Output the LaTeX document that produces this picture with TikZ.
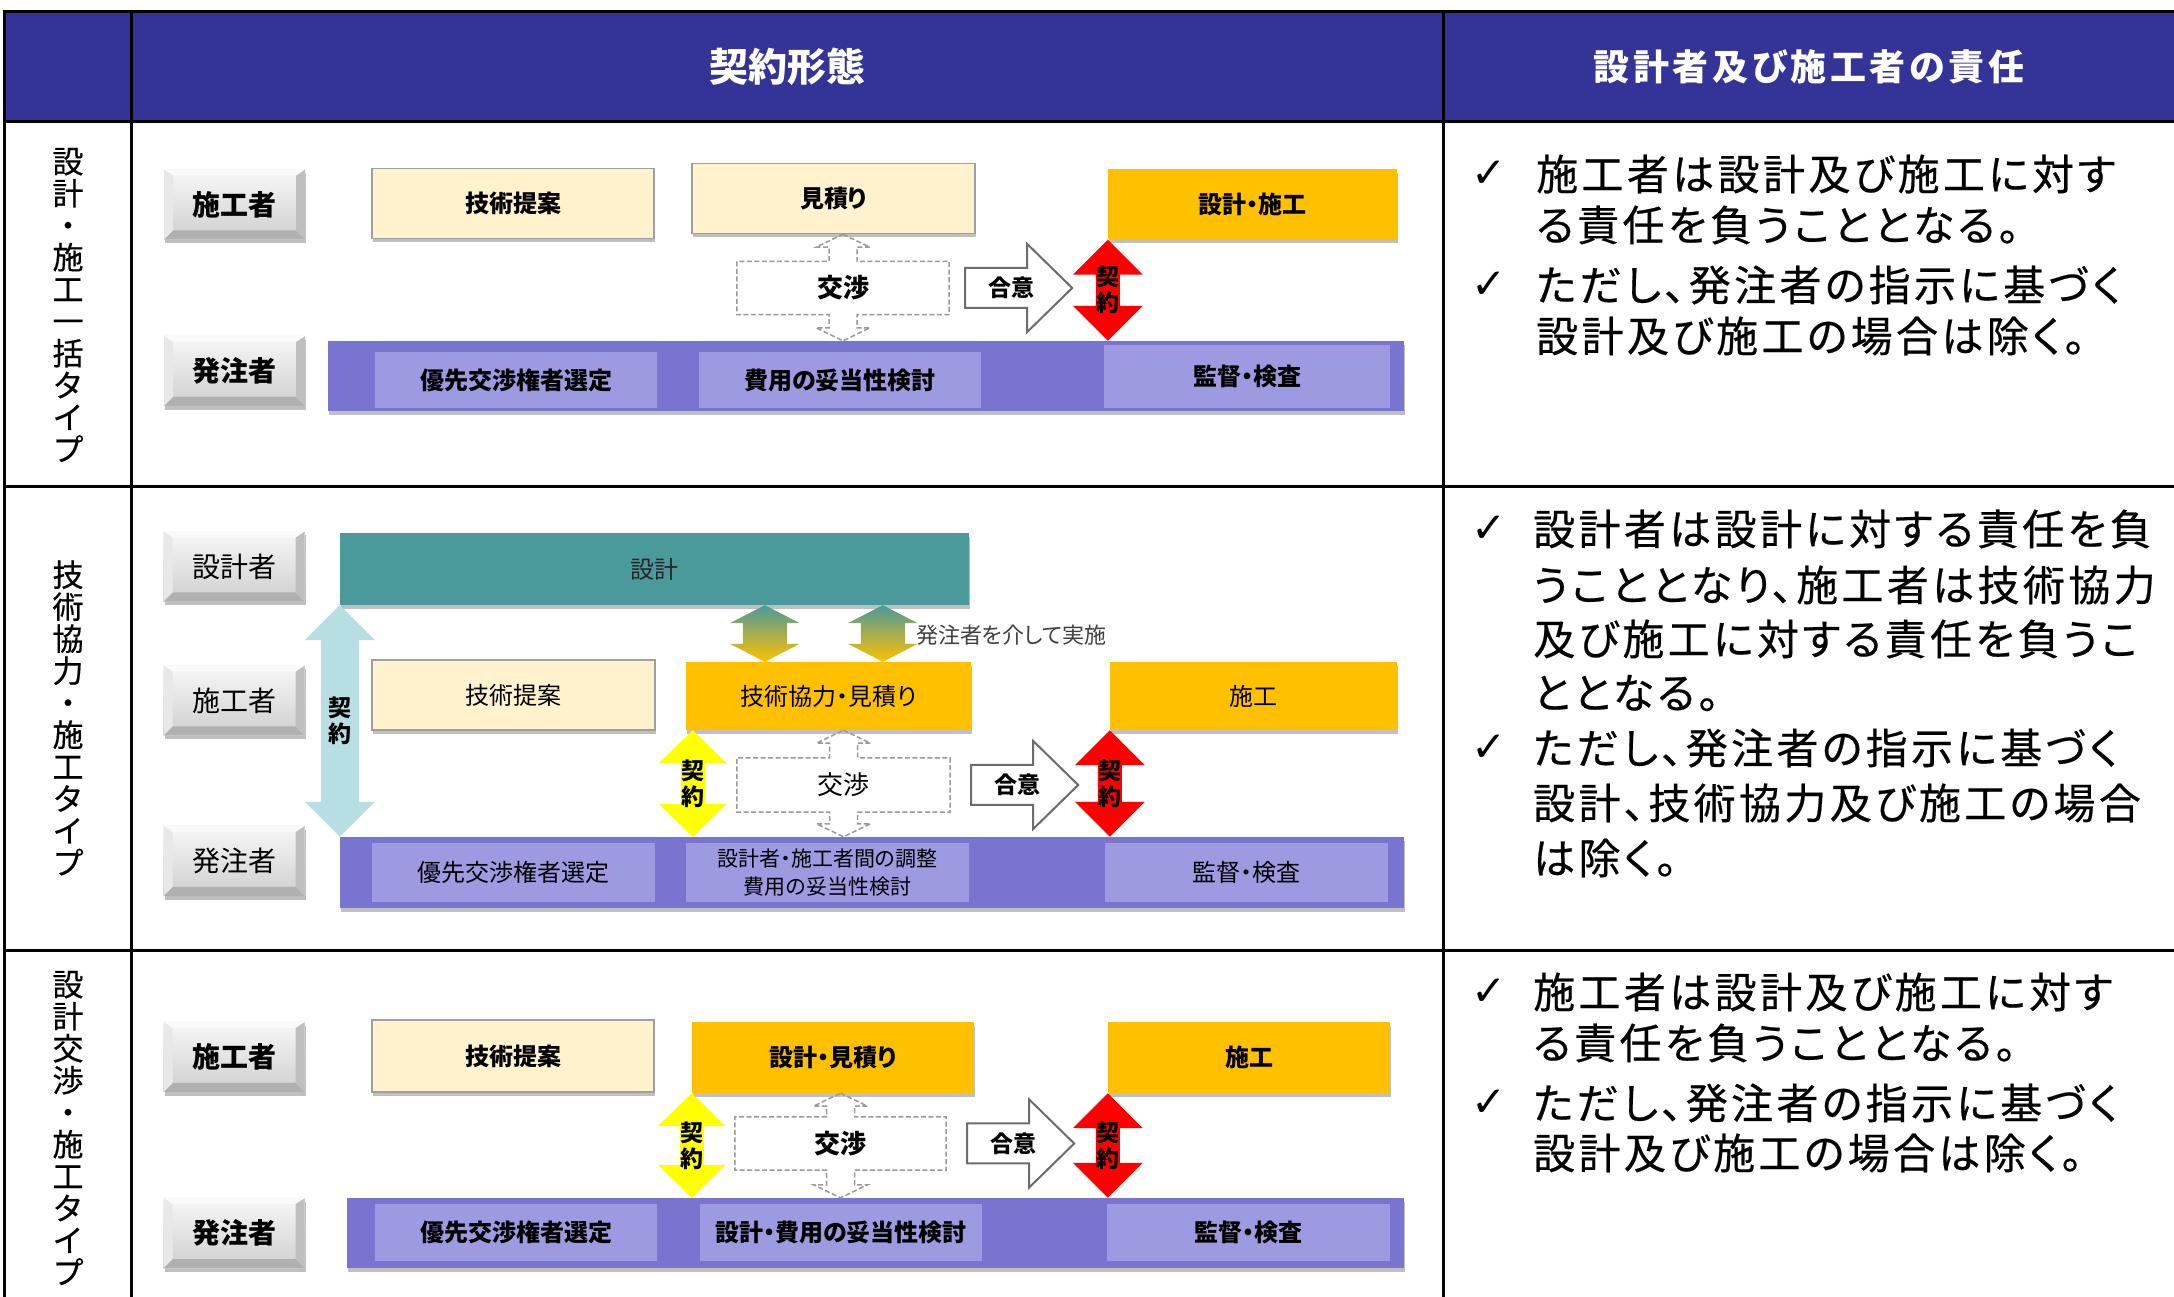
\documentclass[tikz,border=0pt]{standalone}
\usepackage{fontspec}
\setmainfont{Noto Sans CJK JP}
\newfontfamily\jpp[RawFeature=+palt]{Noto Sans CJK JP}
\newfontfamily\jpw[RawFeature=+palt,LetterSpace=10]{Noto Sans CJK JP}
\newfontfamily\jpr[RawFeature=+palt,LetterSpace=8,FakeBold=0.5]{Noto Sans CJK JP}
\newfontfamily\jpv[FakeBold=0.5]{Noto Sans CJK JP}
\newfontfamily\checkfont{DejaVu Sans}
\usepackage{tikz}
\usetikzlibrary{calc}
\usetikzlibrary{shadows}
\newcommand{\fsz}[1]{\fontsize{#1}{#1}\selectfont}

\definecolor{hdrblue}{RGB}{52,52,152}
\definecolor{paleyel}{RGB}{255,242,204}
\definecolor{kiorange}{RGB}{255,192,0}
\definecolor{barblue}{RGB}{120,116,208}
\definecolor{barlite}{RGB}{157,154,226}
\definecolor{tealc}{RGB}{74,154,156}
\definecolor{arrred}{RGB}{255,0,0}
\definecolor{arryel}{RGB}{255,255,0}
\definecolor{arrlt}{RGB}{183,222,226}

% double block arrow, vertical: style, top, bottom, shaft, head, head length, label
\newcommand{\vboth}[7]{%
  \path[#1] let \p1=(#2), \p2=(#3) in
    (\x1,\y1) -- (\x1+#5,\y1-#6) -- (\x1+#4,\y1-#6) -- (\x1+#4,\y2+#6)
    -- (\x1+#5,\y2+#6) -- (\x1,\y2) -- (\x1-#5,\y2+#6) -- (\x1-#4,\y2+#6)
    -- (\x1-#4,\y1-#6) -- (\x1-#5,\y1-#6) -- cycle
    (\x1,{(\y1+\y2)/2}) node[arrowtext] {#7};}
% dashed box with the dashed double arrow through it
\newcommand{\negoarrow}[3]{%
  \draw[negoline] let \p1=(#1.north west), \p2=(#1.south east),
    \p3=(#1.center |- #2), \p4=(#1.center |- #3) in
    (\x3,\y3) -- (\x3+27,\y3-13) -- (\x3+14,\y3-13) -- (\x3+14,\y1) -- (\x2,\y1) -- (\x2,\y2)
    -- (\x3+14,\y2) -- (\x3+14,\y4+13) -- (\x3+27,\y4+13) -- (\x3,\y4) -- (\x3-27,\y4+13)
    -- (\x3-14,\y4+13) -- (\x3-14,\y2) -- (\x1,\y2) -- (\x1,\y1) -- (\x3-14,\y1)
    -- (\x3-14,\y3-13) -- (\x3-27,\y3-13) -- cycle;}
% right block arrow: tail, length, label
\newcommand{\goiarrow}[3]{%
  \draw[goiline] let \p1=(#1) in
    (\x1,\y1+20) -- (\x1+#2-45,\y1+20) -- (\x1+#2-45,\y1+44) -- (\x1+#2,\y1)
    -- (\x1+#2-45,\y1-44) -- (\x1+#2-45,\y1-20) -- (\x1,\y1-20) -- cycle
    (\x1+46,\y1) node[goitext] {#3};}

\tikzset{
  every node/.style={inner sep=0pt},
  tline/.style={line width=3},
  boxshadow/.style={drop shadow={shadow xshift=1pt,shadow yshift=-4pt,opacity=0.25,fill=black}},
  actor/.style={minimum width=141, minimum height=70, top color=gray!6, bottom color=gray!38,
    boxshadow, font=\jpp\bfseries\fsz{28},
    path picture={
      \path (path picture bounding box.south west) coordinate (pa)
            (path picture bounding box.north east) coordinate (pb);
      \fill[gray!62] (pa) -- ($(pa)+(9,9)$) -- ($(pa -| pb)+(-9,9)$) -- (pa -| pb) -- cycle;
      \fill[gray!50] (pa -| pb) -- ($(pa -| pb)+(-9,9)$) -- ($(pb)+(-9,-6)$) -- (pb) -- cycle;
      \fill[gray!4] (pb) -- ($(pb)+(-9,-6)$) -- ($(pa |- pb)+(9,-6)$) -- (pa |- pb) -- cycle;
      \fill[gray!18] (pa |- pb) -- ($(pa |- pb)+(9,-6)$) -- ($(pa)+(9,9)$) -- (pa) -- cycle;
    }},
  actorlight/.style={actor, font=\jpp\fsz{28}},
  propbox/.style={minimum width=282, minimum height=70, fill=paleyel, draw=gray!75,
    line width=1.5, boxshadow, font=\jpp\bfseries\fsz{24}},
  workbox/.style={minimum width=284, minimum height=70, fill=kiorange, boxshadow,
    font=\jpp\bfseries\fsz{24}},
  designbox/.style={minimum width=629, minimum height=72, fill=tealc, boxshadow,
    text=black!85, font=\jpp\fsz{24}},
  bar/.style={fill=barblue, boxshadow},
  barin/.style={fill=barlite, minimum width=282, minimum height=57, font=\jpp\bfseries\fsz{24}},
  nego/.style={minimum width=212, minimum height=53, font=\jpp\bfseries\fsz{26}},
  negoline/.style={draw=gray!80, line width=1.5, dash pattern=on 5pt off 2.5pt},
  goiline/.style={draw=gray!85!black, fill=white, line width=2},
  goitext/.style={font=\jpp\bfseries\fsz{23}},
  arrowtext/.style={align=center, font=\jpp\bfseries\fontsize{23}{26}\selectfont},
  redarrow/.style={fill=arrred},
  yelarrow/.style={fill=arryel},
  ltarrow/.style={fill=arrlt},
  gradarrow/.style={top color=tealc, bottom color=kiorange},
  hdrtext/.style={text=white, font=\jpp\bfseries\fsz{39}},
  hdrtextB/.style={text=white, font=\jpw\bfseries\fsz{36}},
  rowlabel/.style={align=center, font=\jpv\fontsize{31}{32}\selectfont},
  resptext/.style={anchor=west, font=\jpr\fsz{42}},
  checkmk/.style={font=\checkfont\fsz{42}},
  viatext/.style={anchor=west, text=black!75, font=\jpp\fsz{22}}
}

\begin{document}
\begin{tikzpicture}[x=1pt,y=1pt]
  \clip (0,0) rectangle (2174,1296);
  \fill[white] (0,0) rectangle (2174,1296);

  % table
  \fill[hdrblue] (4,1174) rectangle (2190,1284);
  \draw[tline] (4,-10) -- (4,1284) -- (2190,1284);
  \draw[tline] (131,-10) -- (131,1284);
  \draw[tline] (1443,-10) -- (1443,1284);
  \draw[tline] (4,1174) -- (2190,1174);
  \draw[tline] (4,809) -- (2190,809);
  \draw[tline] (4,345) -- (2190,345);
  \node[hdrtext] (hdrA) at (787,1229) {契約形態};
  \node[hdrtextB] (hdrB) at (1809,1229) {設計者及び施工者の責任};
  \node[rowlabel] (typeA) at (68,991) {設\\計\\・\\施\\工\\一\\括\\タ\\イ\\プ};
  \node[rowlabel] (typeB) at (68,578) {技\\術\\協\\力\\・\\施\\工\\タ\\イ\\プ};
  \node[rowlabel] (typeC) at (68,168) {設\\計\\交\\渉\\・\\施\\工\\タ\\イ\\プ};

  % design-build type
  \node[actor] (sekoA) at (234.5,1091.5) {施工者};
  \node[actor] (hacchuA) at (234.5,925) {発注者};
  \node[propbox] (teianA) at (513,1092.5) {技術提案};
  \node[propbox, minimum width=283] (mitsumoriA) at (833.5,1097.5) {見積り};
  \node[workbox, minimum width=289] (sekkeisekoA) at (1252.5,1091.5) {設計・施工};
  \node[bar, minimum width=1076, minimum height=70] (barA) at (866,920) {};
  \node[barin, minimum height=56] (yusenA) at (516,916) {優先交渉権者選定};
  \node[barin, minimum height=56] (datoA) at (840,916) {費用の妥当性検討};
  \node[barin, minimum width=286, minimum height=63] (kantokuA) at (1247,919.5) {監督・検査};
  \node[nego] (negoA) at (843,1008) {交渉};
  \negoarrow{negoA}{mitsumoriA.south}{barA.north}
  \goiarrow{[xshift=16pt]negoA.east}{107}{合意}
  \vboth{redarrow}{sekkeisekoA.south west}{sekkeisekoA.south west |- barA.north}{12}{35}{35}{契\\約}

  % technical cooperation type
  \node[actorlight] (sekkeishaB) at (234,729.5) {設計者};
  \node[actorlight] (sekoB) at (234,595.5) {施工者};
  \node[actorlight] (hacchuB) at (234,435) {発注者};
  \node[designbox] (sekkeiB) at (654.5,727) {設計};
  \node[propbox, font=\jpp\fsz{24}, minimum width=283] (teianB) at (513.5,601) {技術提案};
  \node[workbox, font=\jpp\fsz{24}, minimum width=285, minimum height=68] (kyoryokuB) at (828.5,600) {技術協力・見積り};
  \node[workbox, font=\jpp\fsz{24}, minimum width=287, minimum height=68] (sekoworkB) at (1253.5,600) {施工};
  \node[bar, minimum width=1064, minimum height=71] (barB) at (872,423.5) {};
  \node[barin, font=\jpp\fsz{24}, minimum width=283, minimum height=59] (yusenB) at (513.5,423.5) {優先交渉権者選定};
  \node[barin, align=center, font=\jpp\fontsize{21}{28}\selectfont, minimum width=283, minimum height=59] (choseiB) at (827.5,423.5) {設計者・施工者間の調整\\費用の妥当性検討};
  \node[barin, font=\jpp\fsz{24}, minimum width=283, minimum height=59] (kantokuB) at (1246.5,423.5) {監督・検査};
  \coordinate (viaL) at ([xshift=79pt]kyoryokuB.north west);
  \coordinate (viaR) at ([xshift=197pt]kyoryokuB.north west);
  \coordinate (keiB) at ([xshift=7pt]kyoryokuB.south west);
  \vboth{gradarrow}{viaL |- sekkeiB.south}{viaL}{22}{35}{18}{}
  \vboth{gradarrow}{viaR |- sekkeiB.south}{viaR}{22}{35}{18}{}
  \node[viatext] (viaB) at (916,661) {発注者を介して実施};
  \vboth{ltarrow}{sekkeiB.south west}{sekkeiB.south west |- barB.north}{19}{35}{35}{契\\約}
  \vboth{yelarrow}{keiB}{keiB |- barB.north}{12}{34}{33}{契\\約}
  \node[nego, font=\jpp\fsz{26}, minimum width=213, minimum height=54] (negoB) at (843.5,511) {交渉};
  \negoarrow{negoB}{kyoryokuB.south}{barB.north}
  \goiarrow{[xshift=21pt]negoB.east}{107}{合意}
  \vboth{redarrow}{sekoworkB.south west}{sekoworkB.south west |- barB.north}{12}{35}{35}{契\\約}

  % design negotiation type
  \node[actor] (sekoC) at (234,239) {施工者};
  \node[actor] (hacchuC) at (234,63) {発注者};
  \node[propbox, minimum height=72] (teianC) at (513,240) {技術提案};
  \node[workbox, minimum width=282, minimum height=71] (mitsumoriC) at (833,238.5) {設計・見積り};
  \node[workbox, minimum width=282, minimum height=71] (sekoworkC) at (1249,238.5) {施工};
  \node[bar, minimum width=1057, minimum height=70] (barC) at (875.5,63) {};
  \node[barin] (yusenC) at (516,63.5) {優先交渉権者選定};
  \node[barin] (datoC) at (841,63.5) {設計・費用の妥当性検討};
  \node[barin, minimum width=283] (kantokuC) at (1248.5,63.5) {監督・検査};
  \node[nego, minimum width=211] (negoC) at (840.5,152.5) {交渉};
  \negoarrow{negoC}{mitsumoriC.south}{barC.north}
  \goiarrow{[xshift=21pt]negoC.east}{107}{合意}
  \vboth{yelarrow}{mitsumoriC.south west}{mitsumoriC.south west |- barC.north}{12}{34}{33}{契\\約}
  \vboth{redarrow}{sekoworkC.south west}{sekoworkC.south west |- barC.north}{12}{35}{35}{契\\約}

  % responsibilities
  \foreach \yy/\txt [count=\i] in {1122/施工者は設計及び施工に対す, 1071/る責任を負うこととなる。,
      1011/ただし、発注者の指示に基づく, 960/設計及び施工の場合は除く。}
    \node[resptext] (respA\i) at (1536,\yy) {\txt};
  \foreach \yy/\txt [count=\i] in {767/設計者は設計に対する責任を負, 711/うこととなり、施工者は技術協力,
      657/及び施工に対する責任を負うこ, 603/ととなる。, 548/ただし、発注者の指示に基づく,
      493/設計、技術協力及び施工の場合, 438/は除く。}
    \node[resptext] (respB\i) at (1533,\yy) {\txt};
  \foreach \yy/\txt [count=\i] in {304/施工者は設計及び施工に対す, 253/る責任を負うこととなる。,
      193/ただし、発注者の指示に基づく, 143/設計及び施工の場合は除く。}
    \node[resptext] (respC\i) at (1533,\yy) {\txt};
  \foreach \yy [count=\i] in {1122,1011,767,548,304,193}
    \node[checkmk] (check\i) at (1489,\yy) {✓};
\end{tikzpicture}
\end{document}
